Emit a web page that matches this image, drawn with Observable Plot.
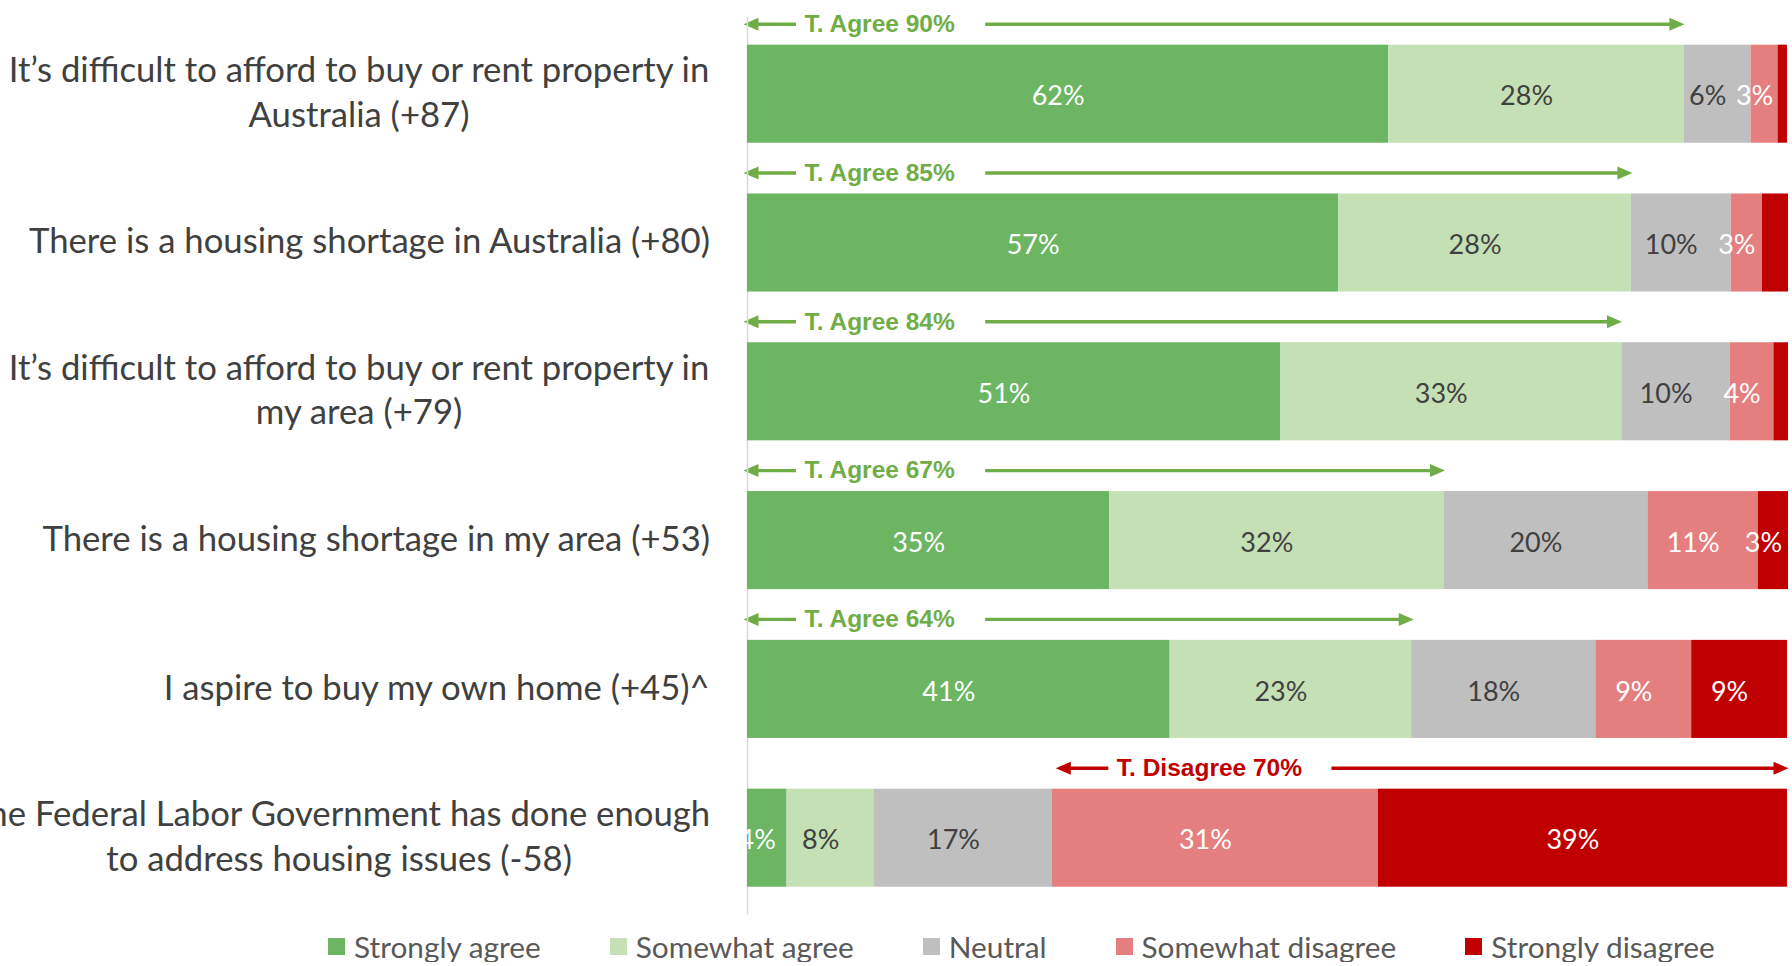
<!DOCTYPE html>
<html><head><meta charset="utf-8">
<script src="https://cdn.jsdelivr.net/npm/d3@7"></script>
<script src="https://cdn.jsdelivr.net/npm/@observablehq/plot@0.6"></script>
<style>
body{margin:0;background:#fff;font-family:Lato,sans-serif;}
#legend{display:flex;flex-wrap:nowrap;align-items:center;padding-left:328px;height:32px;font-size:29.8px;color:#595959;white-space:nowrap;}
.item{display:flex;align-items:center;margin-right:69px;flex-shrink:0;white-space:nowrap;}
.sw{width:17px;height:17px;margin-right:9px;flex-shrink:0;}
</style></head><body><div id="chart"></div><div id="legend"></div>
<script>
const categories = [
  "It’s difficult to afford to buy or rent property in\nAustralia (+87)",
  "There is a housing shortage in Australia (+80)",
  "It’s difficult to afford to buy or rent property in\nmy area (+79)",
  "There is a housing shortage in my area (+53)",
  "I aspire to buy my own home (+45)^",
  "The Federal Labor Government has done enough\nto address housing issues (-58)"
];
const responses = ["Strongly agree", "Somewhat agree", "Neutral", "Somewhat disagree", "Strongly disagree"];
const colors = ["#6bb563", "#c5e0b4", "#bfbfbf", "#e57f7f", "#c00000"];
const stronglyAgree    = [61.6, 56.8, 51.2, 34.8, 40.6, 3.8];
const somewhatAgree    = [28.4, 28.1, 32.8, 32.1, 23.2, 8.4];
const neutral          = [6.4, 9.6, 10.4, 19.6, 17.7, 17.1];
const somewhatDisagree = [2.6, 3.0, 4.2, 10.6, 9.2, 31.3];
const stronglyDisagree = [0.9, 2.5, 1.4, 2.9, 9.2, 39.3];
const annotKind  = ["agree", "agree", "agree", "agree", "agree", "disagree"];
const annotTotal = [90, 85, 84, 67, 64, 70];

const series = [stronglyAgree, somewhatAgree, neutral, somewhatDisagree, stronglyDisagree];
const rows = categories.flatMap((c, i) => responses.map((r, j) => ({cat: c, resp: r, value: series[j][i]})));
const darkResp = new Set(["Somewhat agree", "Neutral"]);
const minLabel = 2.55;

const annots = categories.map((c, i) => {
  const agree = annotKind[i] === "agree";
  return {
    cat: c, kind: annotKind[i],
    start: agree ? 0 : 100 - annotTotal[i],
    end: agree ? annotTotal[i] : 100,
    label: (agree ? "T. Agree " : "T. Disagree ") + annotTotal[i] + "%"
  };
});

const ctx = document.createElement("canvas").getContext("2d");

// arrowhead symbol: tip at the origin, pointing up (rotated by the dot mark)
const HEAD_L = 15, HEAD_W = 13;
const arrowHead = {
  draw(context) {
    context.moveTo(0, 0);
    context.lineTo(HEAD_W / 2, HEAD_L);
    context.lineTo(-HEAD_W / 2, HEAD_L);
    context.closePath();
  }
};

const ARROW_DY = -70;
const TEXT_DX = 57, GAP_L = 8, GAP_R = 30;
const annotFontSize = 24.5;
const annotFamily = "Liberation Sans, Arial, sans-serif";
function annotMarks(kind, col) {
  const g = annots.filter(d => d.kind === kind);
  ctx.font = `bold ${annotFontSize}px ${annotFamily}`;
  const w = d3.max(g, d => ctx.measureText(d.label).width);
  return [
    Plot.ruleY(g, {y: "cat", x1: "start", x2: "start", insetLeft: 4, insetRight: -(TEXT_DX - GAP_L), stroke: col, strokeWidth: 3.4, dy: ARROW_DY}),
    Plot.ruleY(g, {y: "cat", x1: "start", x2: "end", insetLeft: TEXT_DX + w + GAP_R, insetRight: 6, stroke: col, strokeWidth: 3.4, dy: ARROW_DY}),
    Plot.dot(g, {x: "start", y: "cat", symbol: arrowHead, rotate: -90, r: 6, fill: col, stroke: "none", dy: ARROW_DY, dx: -4}),
    Plot.dot(g, {x: "end", y: "cat", symbol: arrowHead, rotate: 90, r: 6, fill: col, stroke: "none", dy: ARROW_DY}),
    Plot.text(g, {x: "start", y: "cat", text: "label", textAnchor: "start", dx: TEXT_DX, dy: ARROW_DY, fill: col,
      fontFamily: annotFamily, fontWeight: "bold", fontSize: annotFontSize})
  ];
}

// category labels: block right-aligned near the axis, lines centred within block
const catFont = 34.7;
ctx.font = `${catFont}px Lato`;
const catMarks = categories.map(c => {
  const w = d3.max(c.split("\n"), s => ctx.measureText(s).width);
  return Plot.text([c], {x: () => 0, y: d => d, text: d => d, textAnchor: "middle", lineAnchor: "middle",
    dx: -37 - w / 2, dy: -4, fontSize: catFont, lineHeight: 1.285, fill: "#404040"});
});

const labelText = (dark) => d => (darkResp.has(d.resp) === dark && d.value >= minLabel) ? Math.round(d.value) + "%" : "";

const plot = Plot.plot({
  width: 1792, height: 930,
  marginLeft: 747, marginRight: 4, marginTop: 17, marginBottom: 15.6,
  x: {domain: [0, 100], axis: null},
  y: {domain: categories, axis: null, paddingInner: 0.341, paddingOuter: 0.186, round: false},
  color: {domain: responses, range: colors},
  style: {fontFamily: "Lato, sans-serif", fontSize: "27px", background: "white", overflow: "visible"},
  marks: [
    ...annotMarks("agree", "#70ad47"),
    ...annotMarks("disagree", "#c00000"),
    Plot.ruleX([0], {stroke: "#d9d9d9", strokeWidth: 1.5}),
    Plot.barX(rows, {x: "value", y: "cat", fill: "resp", z: "resp", order: responses}),
    Plot.text(rows, Plot.stackX({x: "value", y: "cat", z: "resp", order: responses, text: labelText(false), fill: "white", fontSize: 27, dx: -10, dy: 2.5})),
    Plot.text(rows, Plot.stackX({x: "value", y: "cat", z: "resp", order: responses, text: labelText(true), fill: "#404040", fontSize: 27, dx: -10, dy: 2.5})),
    ...catMarks
  ]
});
document.getElementById("chart").appendChild(plot);

const legend = document.getElementById("legend");
responses.forEach((r, i) => {
  const it = document.createElement("div");
  it.className = "item";
  it.innerHTML = `<span class="sw" style="background:${colors[i]}"></span><span>${r}</span>`;
  legend.appendChild(it);
});
</script></body></html>
